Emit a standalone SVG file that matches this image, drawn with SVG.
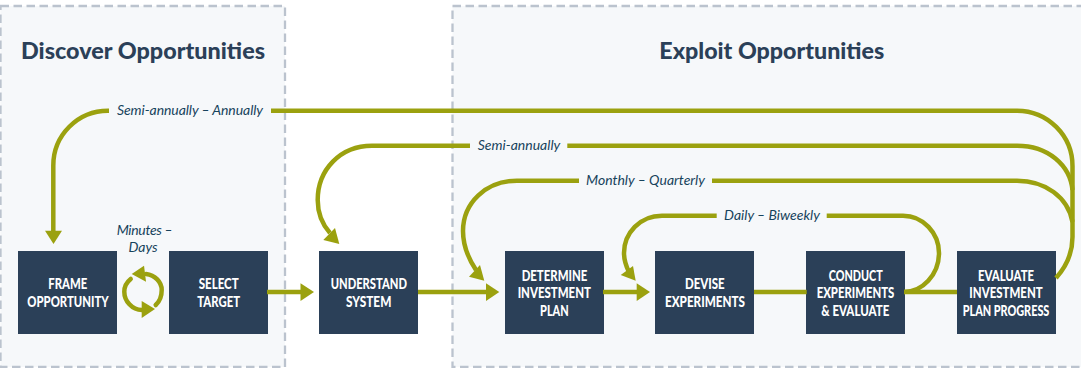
<svg xmlns="http://www.w3.org/2000/svg" width="1081" height="368" viewBox="0 0 1081 368">
<style>
.panel{fill:#f6f8fa;stroke:#bbc3ce;stroke-width:2.300;stroke-dasharray:8.500 4.500}
.box{fill:#2b4058}
.t{font-family:"Lato","Liberation Sans",sans-serif;font-weight:900;font-size:15.500px;fill:#fff;text-anchor:middle}
.h{font-family:"Lato","Liberation Sans",sans-serif;font-weight:900;font-size:22.500px;fill:#2b4058;text-anchor:middle}
.l{font-family:"Lato","Liberation Sans",sans-serif;font-style:italic;font-size:14px;fill:#17435c;text-anchor:middle}
.c{fill:none;stroke:#9ba10f;stroke-width:4.500}
.r{fill:none;stroke:#9ba10f;stroke-width:4.500;stroke-linecap:round}
.a{fill:#9ba10f}
</style>
<rect width="1081" height="368" fill="#fff"/>
<g id="panels">
<rect class="panel" x="0.500" y="6" width="284.500" height="361"/>
<rect class="panel" x="452.500" y="6" width="640" height="361"/>
</g>
<text class="h" x="143" y="59" textLength="244" lengthAdjust="spacingAndGlyphs">Discover Opportunities</text>
<text class="h" x="771.800" y="59" textLength="225" lengthAdjust="spacingAndGlyphs">Exploit Opportunities</text>
<g id="n-frame"><rect class="box" x="18" y="251" width="99" height="83"/><text class="t" x="67.800" y="289.300" textLength="39" lengthAdjust="spacingAndGlyphs">FRAME</text><text class="t" x="68" y="306.700" textLength="81.300" lengthAdjust="spacingAndGlyphs">OPPORTUNITY</text></g>
<g id="n-select"><rect class="box" x="169" y="251" width="99" height="83"/><text class="t" x="218.700" y="289.300" textLength="40" lengthAdjust="spacingAndGlyphs">SELECT</text><text class="t" x="218.700" y="306.700" textLength="42.700" lengthAdjust="spacingAndGlyphs">TARGET</text></g>
<g id="n-understand"><rect class="box" x="319" y="251" width="99" height="83"/><text class="t" x="368.800" y="289.300" textLength="76.300" lengthAdjust="spacingAndGlyphs">UNDERSTAND</text><text class="t" x="368.700" y="306.700" textLength="45.300" lengthAdjust="spacingAndGlyphs">SYSTEM</text></g>
<g id="n-determine"><rect class="box" x="505" y="251" width="99" height="83"/><text class="t" x="554.500" y="280.500" textLength="65.700" lengthAdjust="spacingAndGlyphs">DETERMINE</text><text class="t" x="554.300" y="298" textLength="73.300" lengthAdjust="spacingAndGlyphs">INVESTMENT</text><text class="t" x="554.400" y="315.500" textLength="28.700" lengthAdjust="spacingAndGlyphs">PLAN</text></g>
<g id="n-devise"><rect class="box" x="655" y="251" width="99" height="83"/><text class="t" x="704.800" y="289.300" textLength="39.700" lengthAdjust="spacingAndGlyphs">DEVISE</text><text class="t" x="705" y="306.700" textLength="80" lengthAdjust="spacingAndGlyphs">EXPERIMENTS</text></g>
<g id="n-conduct"><rect class="box" x="806" y="251" width="99" height="83"/><text class="t" x="855.700" y="280.500" textLength="54" lengthAdjust="spacingAndGlyphs">CONDUCT</text><text class="t" x="855.500" y="298" textLength="77.700" lengthAdjust="spacingAndGlyphs">EXPERIMENTS</text><text class="t" x="855.300" y="315.500" textLength="68" lengthAdjust="spacingAndGlyphs">&amp; EVALUATE</text></g>
<g id="n-evaluate"><rect class="box" x="957" y="251" width="99" height="83"/><text class="t" x="1006" y="280.500" textLength="56" lengthAdjust="spacingAndGlyphs">EVALUATE</text><text class="t" x="1006" y="298" textLength="73.300" lengthAdjust="spacingAndGlyphs">INVESTMENT</text><text class="t" transform="translate(1006 315.500) scale(.75 1)" textLength="115.600" lengthAdjust="spacingAndGlyphs">PLAN PROGRESS</text></g>
<g id="connectors">
<path class="c" d="M109 110.700H108A54.700 54.700 0 0 0 53.300 165.400V232"/>
<path class="c" d="M271 110.700H1017A55.500 55.500 0 0 1 1072.500 166.200V237C1072.500 255 1065 268 1056 278"/>
<path class="c" d="M470 145.700H372C340 145.700 317.700 170 317.700 200C317.700 213 322 224 330 233"/>
<path class="c" d="M567.300 145.700H1017C1048 145.700 1070 165 1072.500 190"/>
<path class="c" d="M579 180.700H517C486 180.700 463 203 463 231C463 245 468 258 476 270"/>
<path class="c" d="M712 180.700H1017C1045 180.700 1068 197 1072.500 222"/>
<path class="c" d="M716.700 215.700H662C640 215.700 624 233 624 253C624 260 626 266 629 272"/>
<path class="c" d="M826.700 215.700H903C923 215.700 939 233 939 253C939 275 922 292 904 292"/>
<path class="c" d="M267 292H302"/>
<path class="c" d="M418 292H488"/>
<path class="c" d="M603 292H638"/>
<path class="c" d="M754 292H806.700"/>
<path class="c" d="M904 292H957"/>
<path class="a" d="M45 230.700H62L53.500 244Z"/>
<path class="a" d="M323.300 240L335 228L339.300 244Z"/>
<path class="a" d="M469 276.700L480 265L484.300 280.700Z"/>
<path class="a" d="M620.700 275L633 266L635.700 280.700Z"/>
<path class="a" d="M300.500 283.300L314 292L300.500 301Z"/>
<path class="a" d="M486 283.300L499.300 292L486 301Z"/>
<path class="a" d="M636.700 283.300L650 292L636.700 301Z"/>
<path class="r" d="M146 274C155 275 161.700 282 161.700 290C161.700 297 159 302 155.700 305"/>
<path class="r" d="M142 310C132 310 124.300 301 124.300 291.700C124.300 286 127 282 130.700 279"/>
<path class="a" d="M131.700 274L144 265.700L146 281.700Z"/>
<path class="a" d="M155 309L141.700 301L141.700 318Z"/>
</g>
<g id="labels">
<text class="l" x="190" y="115" textLength="146">Semi-annually – Annually</text>
<text class="l" x="519" y="150">Semi-annually</text>
<text class="l" x="645.500" y="185">Monthly – Quarterly</text>
<text class="l" x="772" y="220">Daily – Biweekly</text>
<text class="l" x="144.700" y="235" textLength="56">Minutes –</text>
<text class="l" x="143" y="251.700">Days</text>
</g>
</svg>
